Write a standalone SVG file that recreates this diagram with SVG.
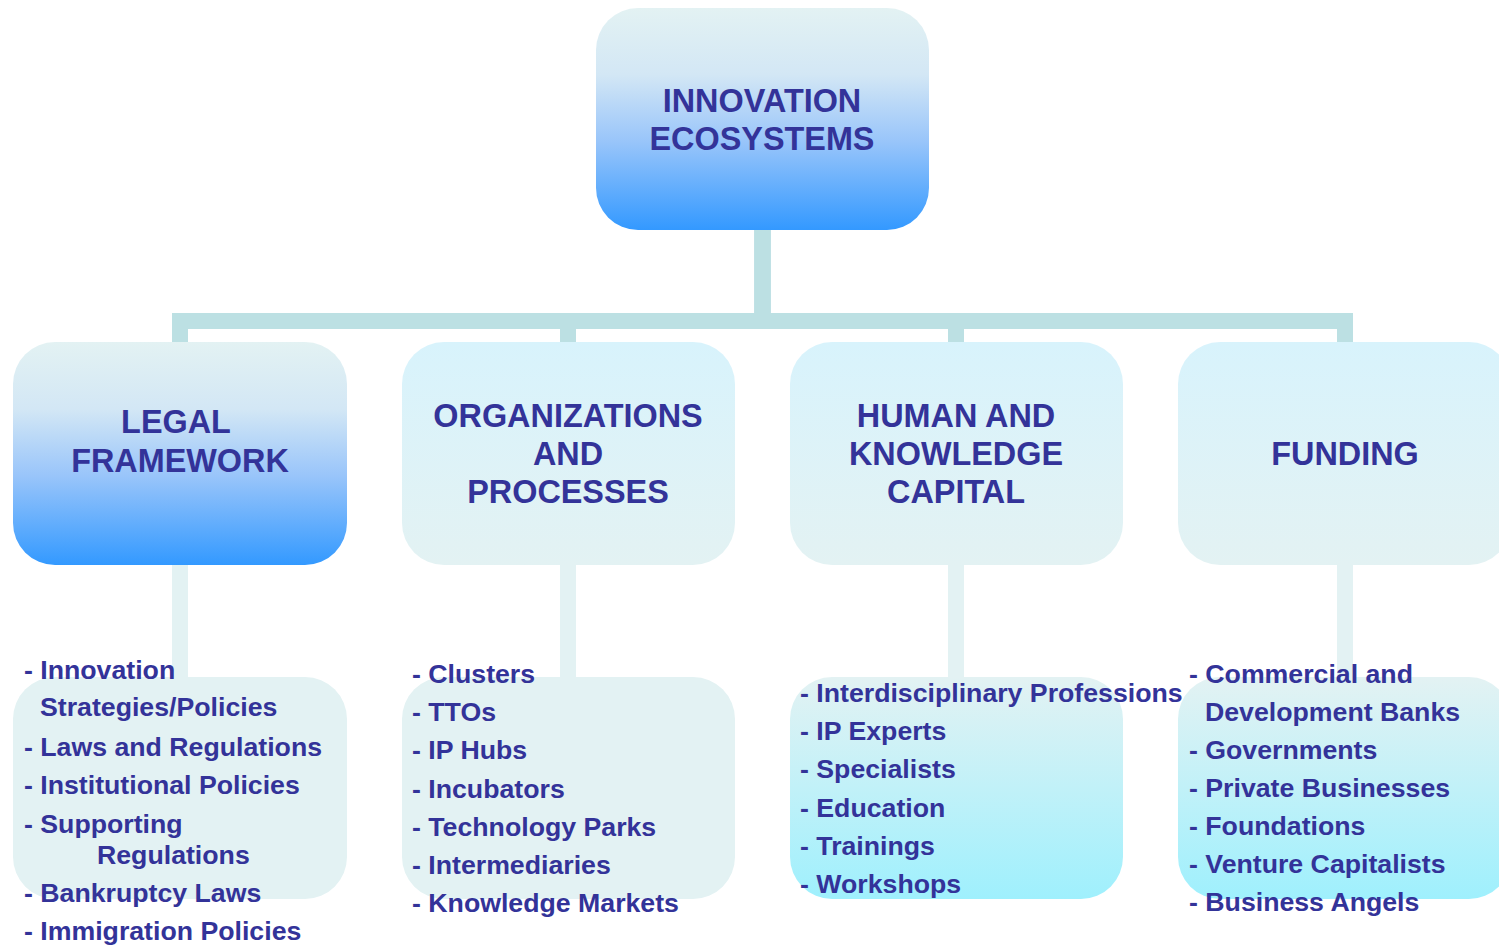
<svg xmlns="http://www.w3.org/2000/svg" width="1499" height="946" viewBox="0 0 1499 946">
<defs>
<linearGradient id="gBlue" x1="0" y1="0" x2="0" y2="1">
<stop offset="0" stop-color="#e3f2f3"/>
<stop offset="0.3" stop-color="#d3e7f5"/>
<stop offset="0.6" stop-color="#99c5fa"/>
<stop offset="1" stop-color="#3399ff"/>
</linearGradient>
<linearGradient id="gLight" x1="0" y1="0" x2="0" y2="1">
<stop offset="0" stop-color="#d8f3fc"/>
<stop offset="1" stop-color="#e3f2f3"/>
</linearGradient>
<linearGradient id="gCyan" x1="0" y1="0" x2="0" y2="1">
<stop offset="0" stop-color="#e3f2f3"/>
<stop offset="1" stop-color="#9ff0fd"/>
</linearGradient>
</defs>
<style>
.hd{font-family:"Liberation Sans",Arial,sans-serif;font-weight:bold;font-size:32.4px;fill:#333399;text-anchor:middle}
.li{font-family:"Liberation Sans",Arial,sans-serif;font-weight:bold;font-size:26.7px;fill:#333399}
.c1{fill:none;stroke:#bce0e3;stroke-width:16}
.c2{fill:none;stroke:#e3f2f3;stroke-width:16}
</style>
<rect width="1499" height="946" fill="#ffffff"/>
<g id="connectors">
<path class="c1" d="M762.5 228 V321 H180 V344"/>
<path class="c1" d="M762.5 228 V321 H568 V344"/>
<path class="c1" d="M762.5 228 V321 H956 V344"/>
<path class="c1" d="M762.5 228 V321 H1345 V344"/>
<path class="c2" d="M180 563 V679"/>
<path class="c2" d="M568 563 V679"/>
<path class="c2" d="M956 563 V679"/>
<path class="c2" d="M1345 563 V679"/>
</g>
<g id="root">
<rect x="596" y="8" width="333" height="222" rx="42" fill="url(#gBlue)"/>
<text class="hd" x="762" y="112">INNOVATION</text>
<text class="hd" x="762" y="150">ECOSYSTEMS</text>
</g>
<g id="legal">
<rect x="13" y="342" width="334" height="223" rx="42" fill="url(#gBlue)"/>
<text class="hd" x="176" y="433">LEGAL</text>
<text class="hd" x="180" y="472">FRAMEWORK</text>
</g>
<g id="org">
<rect x="402" y="342" width="333" height="223" rx="42" fill="url(#gLight)"/>
<text class="hd" x="568" y="427">ORGANIZATIONS</text>
<text class="hd" x="568" y="465">AND</text>
<text class="hd" x="568" y="503">PROCESSES</text>
</g>
<g id="human">
<rect x="790" y="342" width="333" height="223" rx="42" fill="url(#gLight)"/>
<text class="hd" x="956" y="427">HUMAN AND</text>
<text class="hd" x="956" y="465">KNOWLEDGE</text>
<text class="hd" x="956" y="503">CAPITAL</text>
</g>
<g id="funding">
<rect x="1178" y="342" width="333" height="223" rx="42" fill="url(#gLight)"/>
<text class="hd" x="1345" y="465">FUNDING</text>
</g>
<g id="legal-list">
<rect x="13" y="677" width="334" height="222" rx="42" fill="#e3f2f3"/>
<text class="li" x="24" y="679">- Innovation</text>
<text class="li" x="40" y="716">Strategies/Policies</text>
<text class="li" x="24" y="756">- Laws and Regulations</text>
<text class="li" x="24" y="794">- Institutional Policies</text>
<text class="li" x="24" y="833">- Supporting</text>
<text class="li" x="97" y="864">Regulations</text>
<text class="li" x="24" y="902">- Bankruptcy Laws</text>
<text class="li" x="24" y="940">- Immigration Policies</text>
</g>
<g id="org-list">
<rect x="402" y="677" width="333" height="222" rx="42" fill="#e3f2f3"/>
<text class="li" x="412" y="683">- Clusters</text>
<text class="li" x="412" y="721">- TTOs</text>
<text class="li" x="412" y="759">- IP Hubs</text>
<text class="li" x="412" y="798">- Incubators</text>
<text class="li" x="412" y="836">- Technology Parks</text>
<text class="li" x="412" y="874">- Intermediaries</text>
<text class="li" x="412" y="912">- Knowledge Markets</text>
</g>
<g id="human-list">
<rect x="790" y="677" width="333" height="222" rx="42" fill="url(#gCyan)"/>
<text class="li" x="800" y="702">- Interdisciplinary Professions</text>
<text class="li" x="800" y="740">- IP Experts</text>
<text class="li" x="800" y="778">- Specialists</text>
<text class="li" x="800" y="817">- Education</text>
<text class="li" x="800" y="855">- Trainings</text>
<text class="li" x="800" y="893">- Workshops</text>
</g>
<g id="funding-list">
<rect x="1178" y="677" width="333" height="222" rx="42" fill="url(#gCyan)"/>
<text class="li" x="1189" y="683">- Commercial and</text>
<text class="li" x="1205" y="721">Development Banks</text>
<text class="li" x="1189" y="759">- Governments</text>
<text class="li" x="1189" y="797">- Private Businesses</text>
<text class="li" x="1189" y="835">- Foundations</text>
<text class="li" x="1189" y="873">- Venture Capitalists</text>
<text class="li" x="1189" y="911">- Business Angels</text>
</g>
</svg>
